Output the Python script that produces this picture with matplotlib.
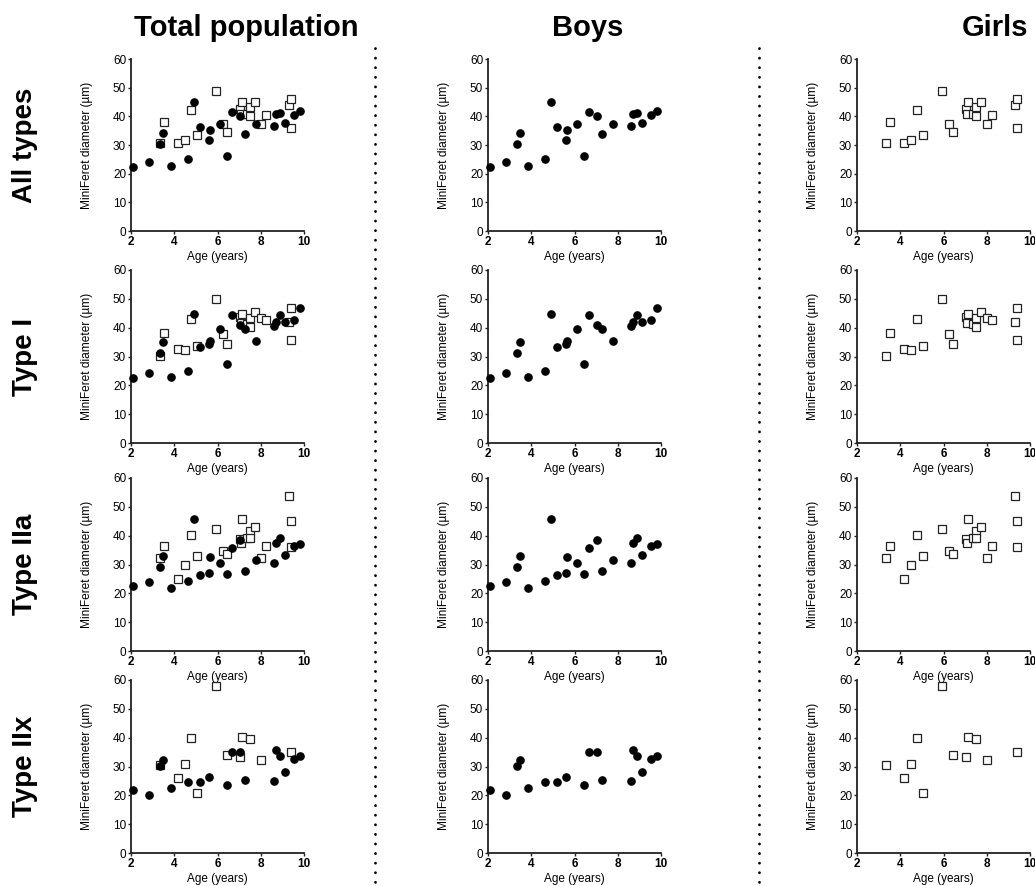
import numpy as np
import matplotlib
matplotlib.use("Agg")
import matplotlib.pyplot as plt

plt.rcParams['font.family'] = ['Liberation Sans', 'DejaVu Sans']

nan = np.nan

# column / row headings
col_titles = ['Total population', 'Boys', 'Girls']
row_titles = ['All types', 'Type I', 'Type IIa', 'Type IIx']

# boys: age (years) and MiniFeret diameter per fibre type
boys_age = [2.08, 2.82, 3.34, 3.48, 3.87, 4.64, 4.92, 5.21, 5.60, 5.66, 6.10,
            6.42, 6.67, 7.05, 7.29, 7.77, 8.62, 8.72, 8.90, 9.10, 9.54, 9.80]
boys_all = [22.5, 24.2, 30.4, 34.1, 22.7, 25.1, 45.1, 36.4, 31.9, 35.1, 37.5,
            26.3, 41.4, 40.2, 33.7, 37.3, 36.7, 40.7, 41.2, 37.6, 40.4, 41.7]
boys_type1 = [22.4, 24.2, 31.1, 35.0, 22.8, 25.1, 44.6, 33.3, 34.5, 35.5, 39.7,
              27.3, 44.4, 41.0, 39.6, 35.3, 40.7, 41.9, 44.4, 41.8, 42.8, 46.9]
boys_type2a = [22.4, 24.0, 29.1, 32.8, 21.9, 24.4, 45.9, 26.3, 27.1, 32.6, 30.6,
               26.8, 35.7, 38.4, 27.9, 31.6, 30.4, 37.5, 39.2, 33.3, 36.3, 37.2]
boys_type2x = [21.9, 20.1, 30.2, 32.3, 22.4, 24.5, nan, 24.5, 26.3, nan, nan,
               23.5, 35.2, 35.0, 25.3, nan, 25.1, 35.7, 33.6, 28.2, 32.5, 33.6]

# girls
girls_age = [3.35, 3.52, 4.17, 4.52, 4.77, 5.05, 5.95, 6.26, 6.45, 7.02, 7.09,
             7.13, 7.37, 7.48, 7.51, 7.74, 8.02, 8.23, 9.31, 9.38, 9.40]
girls_all = [30.7, 37.9, 30.7, 31.7, 42.2, 33.5, 48.7, 37.2, 34.5, 42.6, 40.8,
             44.9, 40.7, 43.3, 40.1, 44.9, 37.5, 40.3, 43.9, 46.1, 35.8]
girls_type1 = [30.2, 38.1, 32.6, 32.2, 42.9, 33.7, 50.1, 37.9, 34.4, 43.8, 41.5,
               44.6, 41.1, 43.5, 40.2, 45.4, 43.2, 42.6, 41.8, 46.9, 35.6]
girls_type2a = [32.1, 36.4, 25.0, 29.8, 40.1, 33.0, 42.3, 34.8, 33.5, 39.0, 37.3,
                45.9, 39.2, 41.5, 39.2, 43.1, 32.4, 36.5, 53.7, 45.0, 36.2]
girls_type2x = [30.4, nan, 26.0, 31.0, 40.0, 20.9, 57.8, nan, 33.9, 33.3, nan,
                40.4, nan, nan, 39.7, nan, 32.1, nan, nan, nan, 35.0]

boys_rows = [boys_all, boys_type1, boys_type2a, boys_type2x]
girls_rows = [girls_all, girls_type1, girls_type2a, girls_type2x]

W, H = 1035, 886
fig = plt.figure(figsize=(W / 100, H / 100), dpi=100)

col_left = [131, 488, 857]
ax_w = 173
row_span = [(59, 231), (270, 443), (478, 651), (680, 853)]

def px_rect(left, top, bottom):
    return [left / W, 1 - bottom / H, ax_w / W, (bottom - top) / H]

for r in range(4):
    top, bottom = row_span[r]
    for c in range(3):
        ax = fig.add_axes(px_rect(col_left[c], top, bottom))
        ax.patch.set_alpha(0)
        if c in (0, 2):
            ax.plot(girls_age, girls_rows[r], 's', ms=5.2, mfc='white',
                    mec='#222222', mew=0.9, clip_on=False, zorder=3)
        if c in (0, 1):
            ax.plot(boys_age, boys_rows[r], 'o', ms=5.2, color='black',
                    clip_on=False, zorder=4)
        ax.set_xlim(2, 10)
        ax.set_ylim(0, 60)
        ax.set_xticks([2, 4, 6, 8, 10])
        ax.set_yticks(range(0, 61, 10))
        for s in ['top', 'right']:
            ax.spines[s].set_visible(False)
        for s in ['left', 'bottom']:
            ax.spines[s].set_linewidth(1.3)
            ax.spines[s].set_color('#222222')
        ax.tick_params(direction='out', length=2.5, width=1, pad=1,
                       labelsize=8.5, color='#222222')
        for lab in ax.get_xticklabels():
            lab.set_fontweight('bold')
            lab.set_family(['Liberation Sans Narrow', 'Liberation Sans'])
        ax.set_xlabel('Age (years)', fontsize=8.5, labelpad=2.5)
        ax.set_ylabel('MiniFeret diameter (\u00b5m)', fontsize=8.6, labelpad=14)

# column titles
title_x = [246, 588, 995]
for c in range(3):
    fig.text(title_x[c] / W, 1 - 36 / H, col_titles[c], fontsize=21,
             fontweight='bold', ha='center', va='baseline')

# row titles
for r in range(4):
    top, bottom = row_span[r]
    fig.text(25 / W, 1 - (top + bottom) / 2 / H, row_titles[r], fontsize=20,
             fontweight='bold', rotation=90, ha='center', va='center')

# dotted separators
for xs in [375, 759]:
    fig.add_artist(plt.Line2D([xs / W, xs / W], [1 - 48 / H, 0], color='black',
                              lw=2.0, linestyle=(0, (0.05, 3.4)),
                              dash_capstyle='round'))

fig.savefig('out.png', dpi=100)
